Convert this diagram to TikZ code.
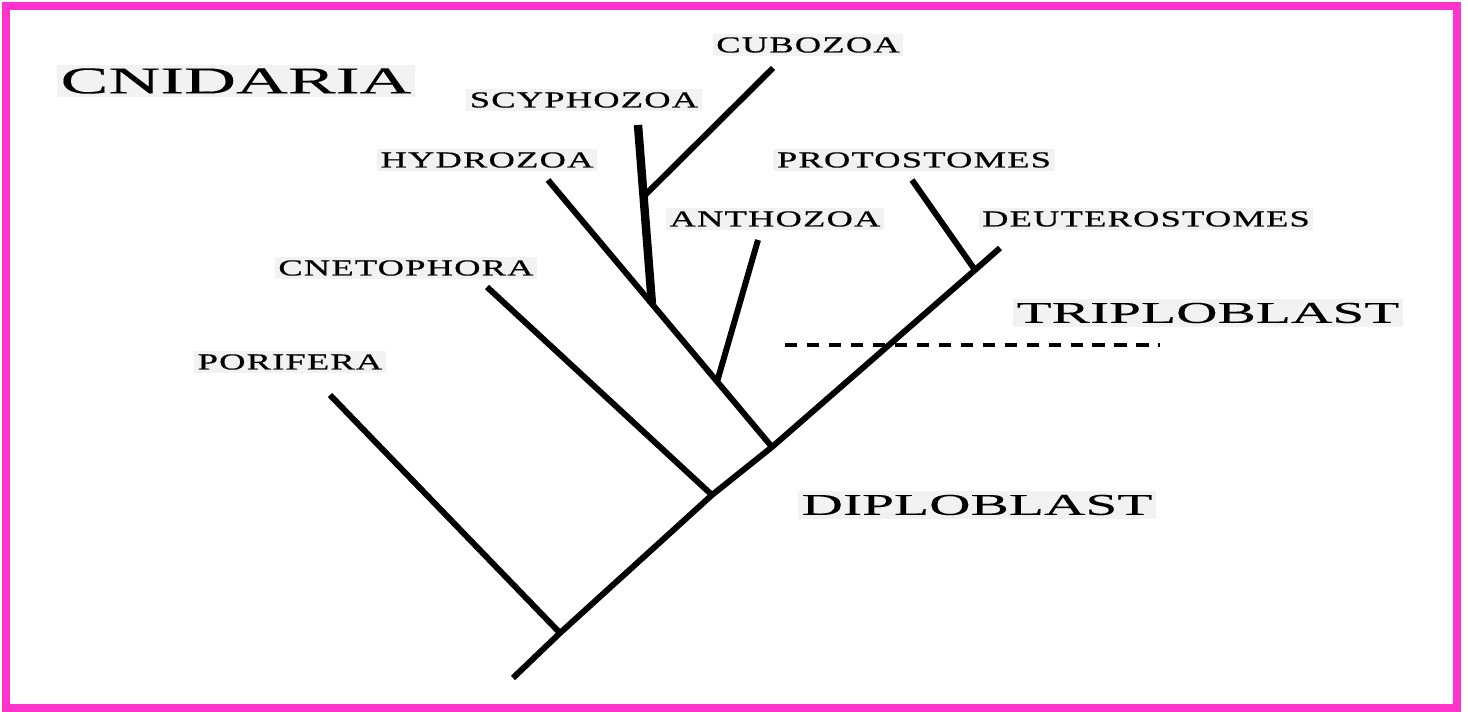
\documentclass[tikz,border=0pt]{standalone}
\usepackage{fontspec}
\setmainfont{Liberation Serif}
\newfontfamily\taxonfont[FakeStretch=1.6,LetterSpace=5,FakeBold=0.6]{Liberation Serif}
\newfontfamily\gradefont[FakeStretch=1.9,FakeBold=0.3]{Liberation Serif}
\usetikzlibrary{calc}
\definecolor{framepink}{RGB}{255,51,204}

\begin{document}
\begin{tikzpicture}[x=0.02cm, y=-0.02cm,
  taxon/.style={font=\taxonfont\fontsize{13pt}{13pt}\selectfont,
    fill=black!5, inner sep=2pt},
  grade/.style={font=\gradefont\fontsize{17.2pt}{17.2pt}\selectfont,
    fill=black!5, inner sep=2pt},
  branch/.style={line width=3.4pt},
  thickbranch/.style={line width=4.8pt},
  split/.style={line width=2.8pt, dash pattern=on 7pt off 5.5pt}
]
  \useasboundingbox (0,0) rectangle (1468,712);
  \draw[framepink, line width=4.5pt] (6,6) rectangle (1457,708);

  \node[grade, font=\gradefont\fontsize{21.5pt}{21.5pt}\selectfont] (cnidaria) at (236,81) {CNIDARIA};
  \node[taxon] (cubozoa) at (808,45) {CUBOZOA};
  \node[taxon] (scyphozoa) at (584,100) {SCYPHOZOA};
  \node[taxon] (hydrozoa) at (487,160) {HYDROZOA};
  \node[taxon] (protostomes) at (914,160) {PROTOSTOMES};
  \node[taxon] (anthozoa) at (775,219) {ANTHOZOA};
  \node[taxon] (deuterostomes) at (1146,219) {DEUTEROSTOMES};
  \node[taxon] (cnetophora) at (406,268) {CNETOPHORA};
  \node[taxon] (porifera) at (290,362) {PORIFERA};
  \node[grade] (triploblast) at (1208,313) {TRIPLOBLAST};
  \node[grade] (diploblast) at (977,505) {DIPLOBLAST};

  \coordinate (root) at (513,678);
  \coordinate (jpor) at (560,633);
  \coordinate (jcne) at (712,495);
  \coordinate (jcni) at (772,447);
  \coordinate (jpro) at (975,270);
  \coordinate (ttop) at (1000,248);
  \coordinate (tpor) at (330,395);
  \coordinate (tcne) at (487,287);
  \coordinate (thyd) at (548,180);
  \coordinate (jant) at ($(jcni)!0.245!(thyd)$);
  \coordinate (tant) at (758,240);
  \coordinate (jscy) at ($(jcni)!0.536!(thyd)$);
  \coordinate (tscy) at (638,125);
  \coordinate (jcub) at ($(jscy)!0.6!(tscy)$);
  \coordinate (tcub) at (773,68);
  \coordinate (tpro) at (912,180);
  \coordinate (sleft) at (785,345);
  \coordinate (sright) at (1160,345);

  \draw[branch] (root) -- (jpor) -- (jcne) -- (jcni) -- (jpro) -- (ttop);
  \draw[branch] (jpor) -- (tpor);
  \draw[branch] (jcne) -- (tcne);
  \draw[branch] (jcni) -- (thyd);
  \draw[branch] (jant) -- (tant);
  \draw[thickbranch] (jscy) -- (tscy);
  \draw[branch] (jcub) -- (tcub);
  \draw[branch] (jpro) -- (tpro);
  \draw[split] (sleft) -- (sright);
\end{tikzpicture}
\end{document}
